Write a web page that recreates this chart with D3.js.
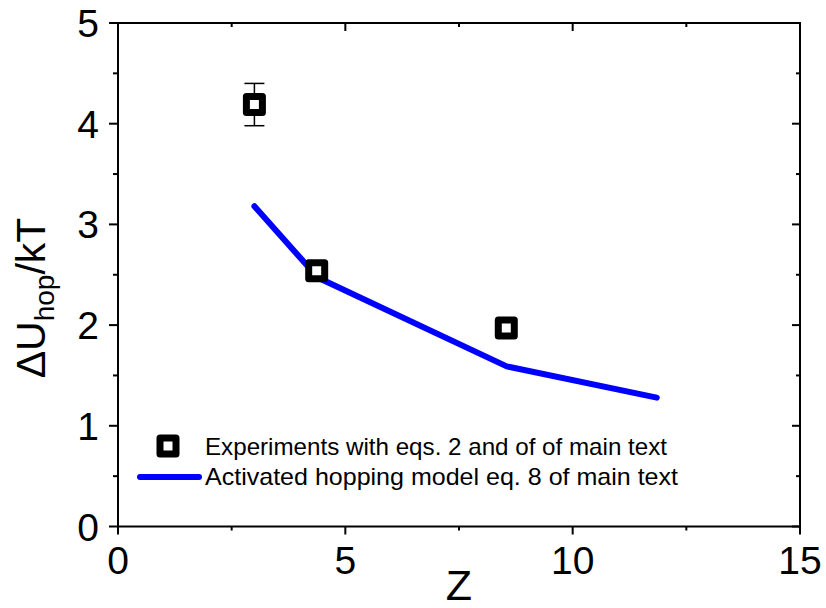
<!DOCTYPE html>
<html>
<head>
<meta charset="utf-8">
<script src="https://cdn.jsdelivr.net/npm/d3@7"></script>
<style>
  html, body { margin: 0; padding: 0; background: #fff; }
  svg { display: block; font-family: "Liberation Sans", Arial, sans-serif; }
</style>
</head>
<body>
<svg id="chart" width="826" height="608"></svg>
<script>
// Experimental hopping barriers
const expZ = [3.0, 4.37, 8.54];
const expU = [4.19, 2.54, 1.97];
const expErr = [0.21, 0, 0];

// Activated hopping model curve
const modelZ = [3.0, 4.4, 8.55, 11.85];
const modelU = [3.18, 2.47, 1.59, 1.28];

const xTicks = [0, 5, 10, 15];
const yTicks = [0, 1, 2, 3, 4, 5];
const legendLabels = [
  "Experiments with eqs. 2 and of of main text",
  "Activated hopping model eq. 8 of main text"
];

const svg = d3.select("#chart");
const plotL = 118, plotR = 800, plotT = 23, plotB = 526.5;

const x = d3.scaleLinear().domain([0, 15]).range([plotL, plotR]);
const y = d3.scaleLinear().domain([0, 5]).range([plotB, plotT]);

const xMinor = d3.range(0, 15.01, 2.5).filter(v => v % 5 !== 0);
const yMinor = d3.range(0, 5.01, 0.5).filter(v => v % 1 !== 0);

// Frame
svg.append("rect")
  .attr("x", plotL).attr("y", plotT)
  .attr("width", plotR - plotL).attr("height", plotB - plotT)
  .attr("fill", "none").attr("stroke", "#000").attr("stroke-width", 2);

const tickG = svg.append("g").attr("stroke", "#000").attr("stroke-width", 2);

// Bottom axis ticks (outward) and top axis ticks (inward)
xTicks.forEach(v => {
  tickG.append("line").attr("x1", x(v)).attr("x2", x(v)).attr("y1", plotB).attr("y2", plotB + 8);
  tickG.append("line").attr("x1", x(v)).attr("x2", x(v)).attr("y1", plotT).attr("y2", plotT + 8);
});
xMinor.forEach(v => {
  tickG.append("line").attr("x1", x(v)).attr("x2", x(v)).attr("y1", plotB).attr("y2", plotB + 4);
  tickG.append("line").attr("x1", x(v)).attr("x2", x(v)).attr("y1", plotT).attr("y2", plotT + 4);
});
// Left axis ticks (outward) and right axis ticks (inward)
yTicks.forEach(v => {
  tickG.append("line").attr("x1", plotL - 9).attr("x2", plotL).attr("y1", y(v)).attr("y2", y(v));
  tickG.append("line").attr("x1", plotR - 8).attr("x2", plotR).attr("y1", y(v)).attr("y2", y(v));
});
yMinor.forEach(v => {
  tickG.append("line").attr("x1", plotL - 5).attr("x2", plotL).attr("y1", y(v)).attr("y2", y(v));
  tickG.append("line").attr("x1", plotR - 4).attr("x2", plotR).attr("y1", y(v)).attr("y2", y(v));
});

// Tick labels
svg.append("g").selectAll("text").data(xTicks).join("text")
  .attr("x", d => x(d)).attr("y", 574)
  .attr("text-anchor", "middle").attr("font-size", 39).attr("fill", "#000")
  .text(d => d);
svg.append("g").selectAll("text").data(yTicks).join("text")
  .attr("x", 99).attr("y", d => y(d) + 14)
  .attr("text-anchor", "end").attr("font-size", 39).attr("fill", "#000")
  .text(d => d);

// Axis titles
svg.append("text")
  .attr("x", x(7.5)).attr("y", 600)
  .attr("text-anchor", "middle").attr("font-size", 43).attr("fill", "#000")
  .text("Z");

const yl = svg.append("text")
  .attr("transform", "translate(45,298) rotate(-90)")
  .attr("text-anchor", "middle").attr("font-size", 41).attr("fill", "#000");
yl.append("tspan").text("\u0394U");
yl.append("tspan").attr("font-size", 28).attr("dy", 9).text("hop");
yl.append("tspan").attr("dy", -9).text("/kT");

// Model curve
const line = d3.line().x(d => x(d[0])).y(d => y(d[1]));
svg.append("path")
  .datum(modelZ.map((z, i) => [z, modelU[i]]))
  .attr("d", line)
  .attr("fill", "none").attr("stroke", "#0000ff").attr("stroke-width", 6)
  .attr("stroke-linecap", "round").attr("stroke-linejoin", "round");

// Error bars
const eb = svg.append("g").attr("stroke", "#000").attr("stroke-width", 1.5);
expZ.forEach((z, i) => {
  if (expErr[i] > 0) {
    const cx = x(z);
    eb.append("line").attr("x1", cx).attr("x2", cx).attr("y1", y(expU[i] + expErr[i])).attr("y2", y(expU[i] - expErr[i]));
    [expU[i] + expErr[i], expU[i] - expErr[i]].forEach(v => {
      eb.append("line").attr("x1", cx - 10).attr("x2", cx + 10).attr("y1", y(v)).attr("y2", y(v));
    });
  }
});

// Square markers
function square(g, cx, cy) {
  g.append("rect")
    .attr("x", cx - 8).attr("y", cy - 8).attr("width", 16).attr("height", 16)
    .attr("fill", "#fff").attr("stroke", "#000").attr("stroke-width", 7)
    .attr("stroke-linejoin", "round");
}
const mk = svg.append("g");
expZ.forEach((z, i) => square(mk, x(z), y(expU[i])));

// Legend
const lg = svg.append("g");
square(lg, 168, 446);
lg.append("line").attr("x1", 140).attr("x2", 199).attr("y1", 477).attr("y2", 477)
  .attr("stroke", "#0000ff").attr("stroke-width", 6).attr("stroke-linecap", "round");
const legendWidths = [462, 473];
lg.selectAll("text").data(legendLabels).join("text")
  .attr("x", 205).attr("y", (d, i) => i === 0 ? 455 : 485)
  .attr("font-size", 24).attr("fill", "#000")
  .attr("textLength", (d, i) => legendWidths[i])
  .attr("lengthAdjust", "spacingAndGlyphs")
  .text(d => d);
</script>
</body>
</html>
